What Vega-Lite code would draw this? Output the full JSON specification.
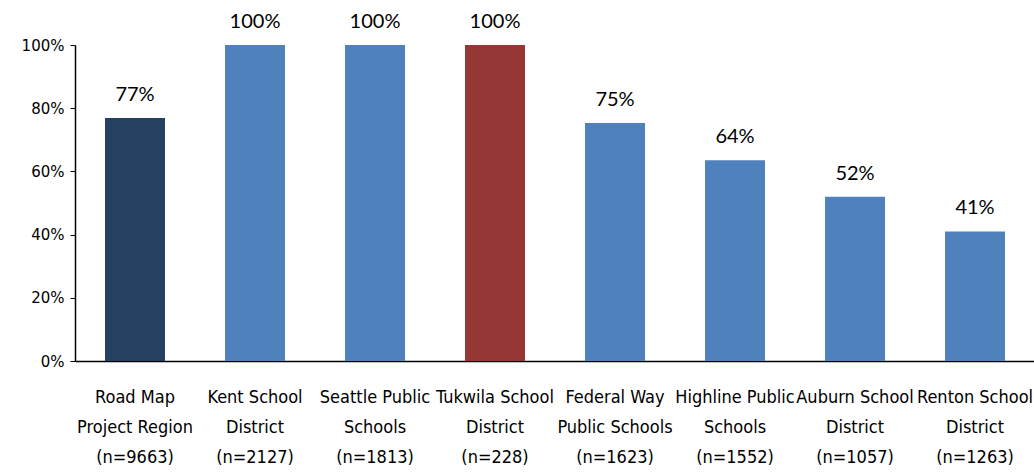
{
  "$schema": "https://vega.github.io/schema/vega-lite/v6.json",
  "width": 960,
  "height": 316,
  "autosize": {"type": "none"},
  "padding": {"left": 75, "top": 45, "right": 0, "bottom": 113},
  "background": "white",
  "data": {"values": [
    {"district": "Road Map|Project Region|(n=9663)", "pct": 0.769, "group": "region"},
    {"district": "Kent School|District|(n=2127)", "pct": 1.0, "group": "other"},
    {"district": "Seattle Public|Schools|(n=1813)", "pct": 1.0, "group": "other"},
    {"district": "Tukwila School|District|(n=228)", "pct": 1.0, "group": "tukwila"},
    {"district": "Federal Way|Public Schools|(n=1623)", "pct": 0.753, "group": "other"},
    {"district": "Highline Public|Schools|(n=1552)", "pct": 0.635, "group": "other"},
    {"district": "Auburn School|District|(n=1057)", "pct": 0.52, "group": "other"},
    {"district": "Renton School|District|(n=1263)", "pct": 0.41, "group": "other"}
  ]},
  "encoding": {
    "x": {
      "field": "district", "type": "nominal", "sort": null,
      "scale": {"paddingInner": 0.5, "paddingOuter": 0.25},
      "axis": {
        "title": null, "labelAngle": 0, "ticks": false,
        "domainColor": "black", "domainWidth": 1.5,
        "labelExpr": "split(datum.label, '|')",
        "labelFont": "DejaVu Sans Condensed", "labelFontSize": 18,
        "labelLineHeight": 30, "labelColor": "black", "labelPadding": 27,
        "labelBaseline": "top", "labelOverlap": false, "labelBound": false
      }
    },
    "y": {
      "field": "pct", "type": "quantitative",
      "scale": {"domain": [0, 1], "nice": false},
      "axis": {
        "title": null, "format": ".0%", "values": [0, 0.2, 0.4, 0.6, 0.8, 1.0],
        "grid": false, "domainColor": "black", "domainWidth": 1.5,
        "tickColor": "black", "tickSize": 5, "labelFont": "DejaVu Sans",
        "labelFontSize": 15, "labelColor": "black", "labelPadding": 6
      }
    }
  },
  "layer": [
    {
      "mark": {"type": "bar"},
      "encoding": {
        "color": {
          "field": "group", "type": "nominal", "legend": null,
          "scale": {"domain": ["region", "other", "tukwila"], "range": ["#264061", "#4F81BD", "#953735"]}
        }
      }
    },
    {
      "mark": {"type": "text", "baseline": "alphabetic", "dy": -17, "font": "Lato", "fontSize": 20, "color": "black"},
      "encoding": {"text": {"field": "pct", "type": "quantitative", "format": ".0%"}}
    }
  ],
  "config": {"view": {"stroke": null}}
}
